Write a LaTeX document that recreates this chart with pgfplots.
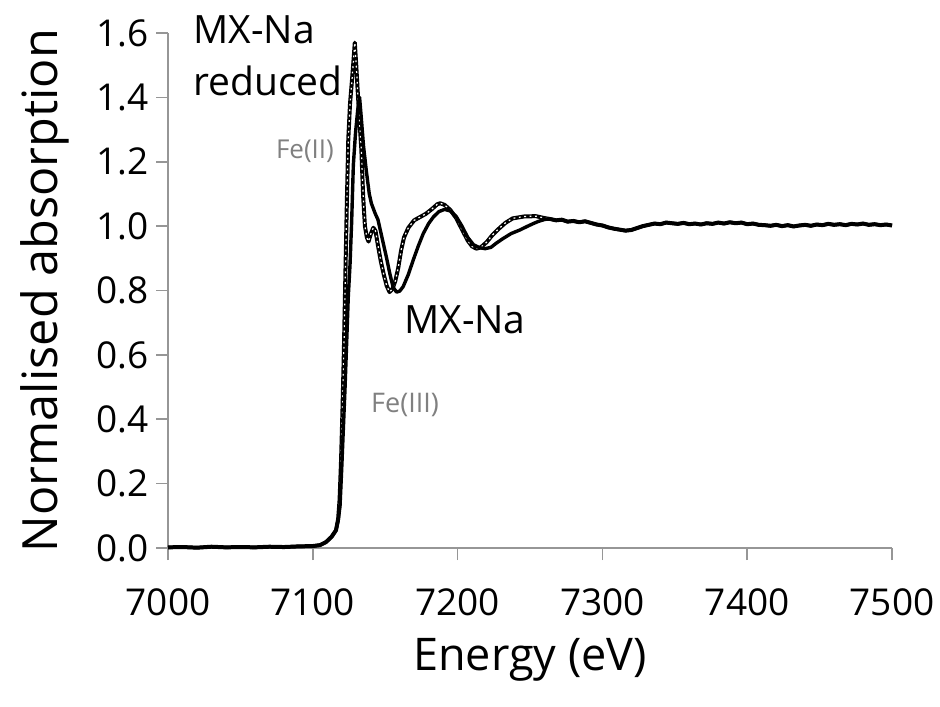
\documentclass[border=0pt]{standalone}
\usepackage{pgfplots}
\pgfplotsset{compat=1.18}
\usepackage{pgfplotstable}
\usepackage{fontspec}
\setmainfont{Open Sans}
\definecolor{axgray}{RGB}{150,150,150}
\definecolor{lblgray}{RGB}{128,128,128}

\pgfplotstableread{
x y
7000 0.002
7010 0.003
7020 0.001
7030 0.004
7040 0.002
7050 0.003
7060 0.002
7070 0.004
7080 0.003
7090 0.005
7100 0.006
7105 0.009
7109 0.018
7113 0.035
7116 0.055
7117.5 0.09
7118.5 0.15
7119.5 0.27
7120.5 0.43
7121.5 0.62
7122.5 0.85
7123.5 1.07
7124.5 1.27
7125.7 1.38
7127 1.45
7128.2 1.52
7129 1.57
7130 1.50
7131 1.42
7132.2 1.33
7133.5 1.24
7134.8 1.09
7136 1.00
7137.3 0.965
7138.5 0.952
7140 0.975
7141.8 0.995
7143.3 0.985
7145 0.94
7147 0.89
7149 0.85
7151 0.815
7153 0.795
7155 0.805
7157 0.83
7159 0.87
7161 0.925
7163 0.965
7166 0.995
7170 1.018
7174 1.028
7178 1.038
7182 1.052
7186 1.068
7188 1.071
7191 1.066
7195 1.05
7199 1.025
7203 0.99
7207 0.955
7210 0.937
7213 0.930
7216 0.934
7220 0.950
7224 0.972
7228 0.99
7233 1.010
7238 1.024
7246 1.030
7254 1.031
7260 1.025
7264 1.022
7268 1.018
7272 1.020
7276 1.014
7280 1.016
7284 1.012
7288 1.015
7292 1.010
7296 1.005
7300 1.002
7304 0.996
7308 0.992
7312 0.989
7316 0.986
7320 0.988
7324 0.994
7328 1.000
7332 1.004
7336 1.008
7340 1.006
7344 1.011
7348 1.009
7352 1.007
7356 1.010
7360 1.006
7364 1.008
7368 1.005
7372 1.009
7376 1.007
7380 1.011
7384 1.008
7388 1.012
7392 1.009
7396 1.011
7400 1.006
7404 1.008
7408 1.004
7412 1.003
7416 1.001
7420 1.004
7424 1.000
7428 1.003
7432 0.999
7436 1.002
7440 1.004
7444 1.001
7448 1.005
7452 1.003
7456 1.007
7460 1.004
7464 1.006
7468 1.003
7472 1.007
7476 1.005
7480 1.008
7484 1.004
7488 1.006
7492 1.003
7496 1.005
7500 1.002
}\reduced

\pgfplotstableread{
x y
7000 0.002
7010 0.003
7020 0.001
7030 0.004
7040 0.002
7050 0.003
7060 0.002
7070 0.004
7080 0.003
7090 0.005
7100 0.006
7105 0.009
7109 0.018
7113 0.035
7116 0.055
7117.5 0.085
7118.8 0.13
7120 0.25
7121 0.36
7122.2 0.49
7123.4 0.64
7124.5 0.78
7125.7 0.88
7126.8 1.01
7128 1.19
7129.5 1.29
7131 1.36
7132.3 1.40
7133.6 1.33
7135 1.25
7137 1.17
7139 1.10
7140.5 1.07
7143 1.04
7145 1.02
7147 0.98
7149 0.94
7151 0.90
7153.3 0.85
7155.5 0.81
7157.8 0.795
7160 0.798
7162.4 0.812
7166 0.85
7169.3 0.894
7173 0.94
7176.3 0.977
7180 1.008
7183.2 1.028
7187 1.045
7191 1.052
7195 1.047
7199 1.03
7203 1.0
7207 0.965
7211 0.942
7215 0.933
7219 0.930
7223 0.934
7227 0.948
7231.6 0.962
7237 0.977
7243 0.988
7248 0.999
7252.3 1.008
7256 1.015
7260.4 1.021
7264 1.022
7268 1.018
7272 1.020
7276 1.014
7280 1.016
7284 1.012
7288 1.015
7292 1.010
7296 1.005
7300 1.002
7304 0.996
7308 0.992
7312 0.989
7316 0.986
7320 0.988
7324 0.994
7328 1.000
7332 1.004
7336 1.008
7340 1.006
7344 1.011
7348 1.009
7352 1.007
7356 1.010
7360 1.006
7364 1.008
7368 1.005
7372 1.009
7376 1.007
7380 1.011
7384 1.008
7388 1.012
7392 1.009
7396 1.011
7400 1.006
7404 1.008
7408 1.004
7412 1.003
7416 1.001
7420 1.004
7424 1.000
7428 1.003
7432 0.999
7436 1.002
7440 1.004
7444 1.001
7448 1.005
7452 1.003
7456 1.007
7460 1.004
7464 1.006
7468 1.003
7472 1.007
7476 1.005
7480 1.008
7484 1.004
7488 1.006
7492 1.003
7496 1.005
7500 1.002
}\oxidised

\begin{document}
\begin{tikzpicture}
\path[use as bounding box] (-84pt,-79pt) rectangle (386pt,274pt);
\begin{axis}[
  at={(0,0)}, anchor=south west,
  scale only axis, width=362pt, height=257.5pt,
  xmin=7000, xmax=7500, ymin=0, ymax=1.6,
  xtick={7000,7100,...,7500},
  ytick={0,0.2,...,1.6},
  axis x line*=bottom, axis y line*=left,
  axis line style={axgray, line width=0.8pt},
  tick style={axgray, line width=0.8pt},
  tick align=outside, major tick length=6pt,
  clip=false,
  /pgf/number format/assume math mode=true,
  ticklabel style={font=\fontsize{18.5}{20}\selectfont, black},
  xticklabel style={/pgf/number format/1000 sep={}, yshift=-11pt},
  yticklabel style={/pgf/number format/.cd, fixed, fixed zerofill, precision=1},
]
\addplot[black, line width=2pt, line join=round] table[x=x,y=y] {\reduced};
\addplot[white, line width=0.6pt, dash pattern=on 0.9pt off 1.8pt] table[x=x,y=y] {\reduced};
\addplot[black, line width=1.7pt, line join=round] table[x=x,y=y] {\oxidised};

\node[anchor=base west, inner sep=0pt, font=\fontsize{19.5}{22}\selectfont] at (axis cs:7017.3,1.568) {MX-Na};
\node[anchor=base west, inner sep=0pt, font=\fontsize{19.5}{22}\selectfont] at (axis cs:7017.3,1.407) {reduced};
\node[anchor=center, font=\fontsize{19.5}{22}\selectfont] at (axis cs:7205.1,0.708) {MX-Na};
\node[anchor=center, text=lblgray, font=\fontsize{13}{15}\selectfont] at (axis cs:7094.6,1.233) {Fe(II)};
\node[anchor=center, text=lblgray, font=\fontsize{13.5}{15}\selectfont] at (axis cs:7163.7,0.444) {Fe(III)};
\end{axis}
\node[anchor=center, font=\fontsize{22.5}{26}\selectfont] at (181pt,-56pt) {Energy (eV)};
\node[anchor=center, rotate=90, font=\fontsize{24.3}{28}\selectfont] at (-61.5pt,128.75pt) {Normalised absorption};
\end{tikzpicture}
\end{document}
